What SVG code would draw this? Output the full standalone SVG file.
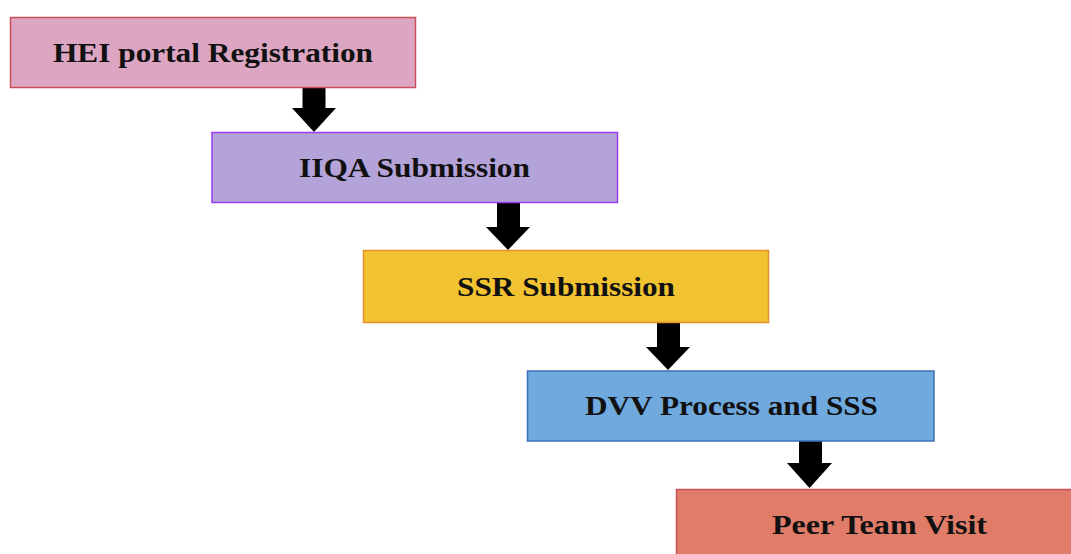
<svg xmlns="http://www.w3.org/2000/svg" width="1071" height="554" viewBox="0 0 1071 554">
<style>
.box{stroke-width:1.5}
.lbl{font-family:"Liberation Serif","Times New Roman",serif;font-weight:bold;font-size:28px;fill:#111;text-anchor:middle}
.arr{fill:#000}
</style>
<rect width="1071" height="554" fill="#fff"/>
<g id="connectors">
<path class="arr" d="M302.5,84 H325.5 V108 H336 L314,132 L292,108 H302.5 Z"/>
<path class="arr" d="M497,198 H520 V227 H530 L508,250 L486,227 H497 Z"/>
<path class="arr" d="M657,318 H680 V347 H690 L668,370 L646,347 H657 Z"/>
<path class="arr" d="M799,440 H822 V463 H832 L809.5,488 L787,463 H799 Z"/>
</g>
<g id="n1">
<rect class="box" x="10.5" y="17.5" width="405" height="70" fill="#DCA5C1" stroke="#C8505A"/>
<text class="lbl" x="213" y="62" textLength="320" lengthAdjust="spacingAndGlyphs">HEI portal Registration</text>
</g>
<g id="n2">
<rect class="box" x="212" y="132.5" width="405.5" height="70" fill="#B4A3D9" stroke="#9B3DF5"/>
<text class="lbl" x="414.5" y="176.5" textLength="231" lengthAdjust="spacingAndGlyphs">IIQA Submission</text>
</g>
<g id="n3">
<rect class="box" x="363.5" y="250.5" width="405" height="72" fill="#F1C232" stroke="#E3902F"/>
<text class="lbl" x="566" y="295.5" textLength="218" lengthAdjust="spacingAndGlyphs">SSR Submission</text>
</g>
<g id="n4">
<rect class="box" x="527.5" y="371" width="406.5" height="70" fill="#6FA9DE" stroke="#3E70B5"/>
<text class="lbl" x="731.5" y="415" textLength="293" lengthAdjust="spacingAndGlyphs">DVV Process and SSS</text>
</g>
<g id="n5">
<rect class="box" x="676.5" y="489.5" width="406" height="72" fill="#E17C69" stroke="#C8505A"/>
<text class="lbl" x="879.5" y="534" textLength="215" lengthAdjust="spacingAndGlyphs">Peer Team Visit</text>
</g>
</svg>
